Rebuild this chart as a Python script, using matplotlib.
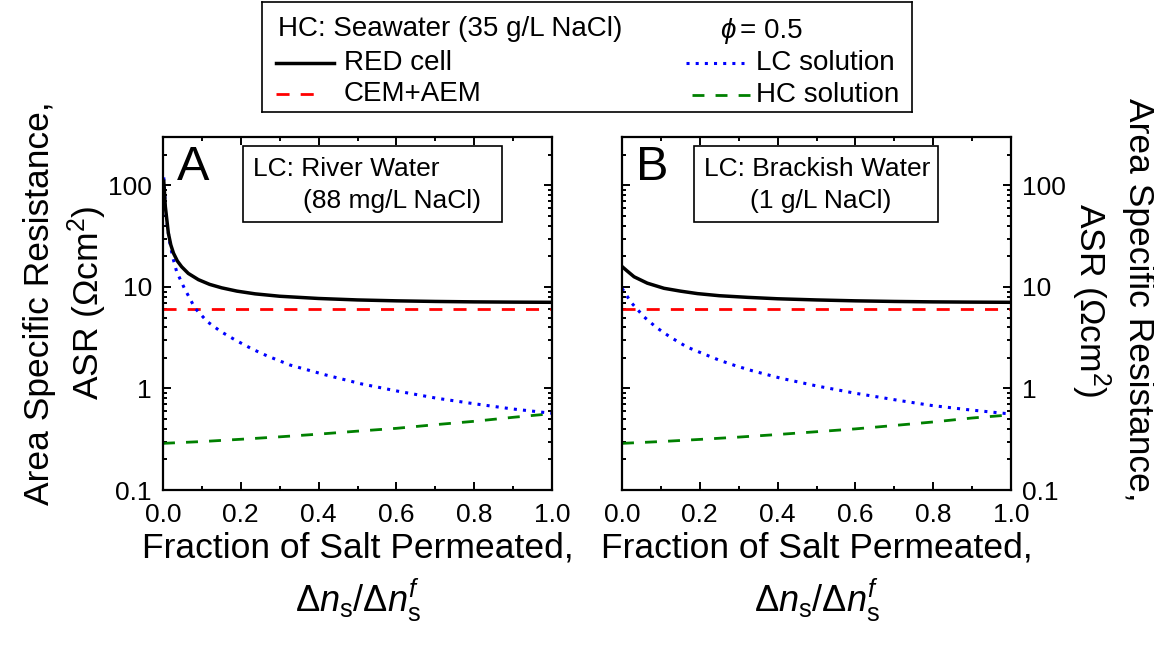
"""Area specific resistance vs fraction of salt permeated, two RED cases."""

import matplotlib

matplotlib.use("Agg")
import matplotlib.pyplot as plt
from matplotlib.patches import Rectangle
from matplotlib.ticker import LogLocator, MultipleLocator, NullFormatter, FixedFormatter, FixedLocator

plt.rcParams["font.family"] = ["Liberation Sans", "DejaVu Sans"]
plt.rcParams["mathtext.fontset"] = "custom"
plt.rcParams["mathtext.rm"] = "Liberation Sans"
plt.rcParams["mathtext.it"] = "Liberation Sans:italic"

# ---- panel A: river water LC ----
x_a_cell = [0.002, 0.006, 0.0137, 0.02, 0.027, 0.037, 0.048, 0.065, 0.091, 0.12, 0.151,
            0.19, 0.237, 0.3, 0.4, 0.5, 0.6, 0.7, 0.8, 0.9, 1.0]
asr_a_cell = [110, 62, 34, 26, 21.5, 18, 15.8, 13.6, 11.8, 10.6, 9.8,
              9.1, 8.55, 8.1, 7.7, 7.45, 7.3, 7.2, 7.13, 7.09, 7.06]
x_a_lc = [0.002, 0.006, 0.012, 0.017, 0.025, 0.035, 0.055, 0.082, 0.114, 0.149, 0.186,
          0.229, 0.267, 0.327, 0.418, 0.51, 0.604, 0.705, 0.797, 0.896, 1.0]
asr_a_lc = [120, 62, 37.8, 27.9, 19.6, 14.2, 9.7, 6.2, 4.55, 3.63, 3.0,
            2.45, 2.10, 1.70, 1.36, 1.11, 0.94, 0.80, 0.71, 0.63, 0.57]
x_a_hc = [0.0, 0.1, 0.2, 0.3, 0.4, 0.5, 0.6, 0.7, 0.8, 0.9, 1.0]
asr_a_hc = [0.288, 0.30, 0.316, 0.334, 0.355, 0.38, 0.405, 0.44, 0.475, 0.52, 0.565]

# ---- panel B: brackish water LC ----
x_b_cell = [0.0, 0.012, 0.031, 0.065, 0.108, 0.15, 0.194, 0.25, 0.323, 0.4, 0.5, 0.6,
            0.7, 0.8, 0.9, 1.0]
asr_b_cell = [15.9, 14.5, 12.6, 10.9, 9.7, 9.1, 8.6, 8.2, 7.9, 7.65, 7.45, 7.3,
              7.2, 7.13, 7.09, 7.06]
x_b_lc = [0.0, 0.024, 0.057, 0.088, 0.124, 0.167, 0.21, 0.25, 0.293, 0.336, 0.409,
          0.5, 0.598, 0.714, 0.796, 0.886, 1.0]
asr_b_lc = [9.7, 7.0, 5.06, 4.0, 3.21, 2.56, 2.19, 1.90, 1.67, 1.49, 1.26,
            1.06, 0.90, 0.76, 0.68, 0.62, 0.56]
x_b_hc = [0.0, 0.1, 0.2, 0.3, 0.4, 0.5, 0.6, 0.7, 0.8, 0.9, 1.0]
asr_b_hc = [0.288, 0.30, 0.315, 0.332, 0.352, 0.375, 0.40, 0.432, 0.468, 0.512, 0.55]

# membranes (constant)
x_mem = [0.0, 1.0]
asr_mem = [6.0, 6.0]

panels = [
    ("A", "LC: River Water", "(88 mg/L NaCl)",
     (x_a_cell, asr_a_cell), (x_a_lc, asr_a_lc), (x_a_hc, asr_a_hc)),
    ("B", "LC: Brackish Water", "(1 g/L NaCl)",
     (x_b_cell, asr_b_cell), (x_b_lc, asr_b_lc), (x_b_hc, asr_b_hc)),
]

W, H = 1154, 646
fig = plt.figure(figsize=(W / 100, H / 100), dpi=100)

style_cell = dict(color="black", lw=2.5, ls="-")
style_mem = dict(color="#ff0000", lw=2.0, ls=(0, (4.7, 4.0)))
style_lc = dict(color="#0000ff", lw=2.2, ls=(0, (1, 2.0)))
style_hc = dict(color="#008000", lw=2.0, ls=(0, (4.3, 4.0)))

axes_left = [163, 622]
ax_w, ax_top, ax_bot = 389, 137, 490
# inset boxes: left, right, top, bottom (px) and second-line indent (px)
box_px = [(243, 502, 146, 222, 50), (694, 938, 146, 222, 46)]

for i, (letter, l1, l2, cell, lc, hc) in enumerate(panels):
    ax = fig.add_axes([axes_left[i] / W, 1 - ax_bot / H, ax_w / W, (ax_bot - ax_top) / H])
    ax.plot(x_mem, asr_mem, **style_mem)
    ax.plot(*hc, **style_hc)
    ax.plot(*lc, **style_lc)
    ax.plot(*cell, **style_cell)
    ax.set_yscale("log")
    ax.set_xlim(0, 1)
    ax.set_ylim(0.1, 300)
    ax.xaxis.set_major_locator(MultipleLocator(0.2))
    ax.xaxis.set_minor_locator(MultipleLocator(0.1))
    ax.xaxis.set_major_formatter(matplotlib.ticker.FormatStrFormatter("%.1f"))
    ax.yaxis.set_major_locator(FixedLocator([0.1, 1, 10, 100]))
    ax.yaxis.set_major_formatter(FixedFormatter(["0.1", "1", "10", "100"]))
    ax.yaxis.set_minor_locator(LogLocator(base=10, subs=range(2, 10)))
    ax.yaxis.set_minor_formatter(NullFormatter())
    ax.tick_params(which="both", direction="in", top=True, right=True,
                   labelsize=19, width=1.4)
    ax.tick_params(axis="x", pad=9)
    ax.tick_params(axis="y", pad=8)
    ax.tick_params(which="major", length=6)
    ax.tick_params(which="minor", length=3)
    if i == 1:
        ax.tick_params(axis="y", labelleft=False, labelright=True)
    for sp in ax.spines.values():
        sp.set_linewidth(1.6)

    ax.text(0.035, 0.915, letter, transform=ax.transAxes, fontsize=35,
            ha="left", va="center")
    bx0, bx1, by0, by1, indent = box_px[i]
    x0 = (bx0 - axes_left[i]) / ax_w
    x1 = (bx1 - axes_left[i]) / ax_w
    y0 = (ax_bot - by1) / (ax_bot - ax_top)
    y1 = (ax_bot - by0) / (ax_bot - ax_top)
    ax.add_patch(Rectangle((x0, y0), x1 - x0, y1 - y0, transform=ax.transAxes,
                           fill=False, lw=1.2, ec="black"))
    ax.text(x0 + 10 / ax_w, y0 + (y1 - y0) * 0.70, l1, transform=ax.transAxes,
            fontsize=19, ha="left", va="center")
    ax.text(x0 + (10 + indent) / ax_w, y0 + (y1 - y0) * 0.27, l2, transform=ax.transAxes,
            fontsize=19, ha="left", va="center")

    cx = (axes_left[i] + ax_w / 2) / W
    fig.text(cx, 1 - 548 / H, "Fraction of Salt Permeated,", fontsize=25.5,
             ha="center", va="center")
    fig.text(cx, 1 - 600 / H,
             r"$\Delta \mathit{n}_{\mathrm{s}}/\Delta \mathit{n}_{\mathrm{s}}^{\mathit{f}}$",
             fontsize=26, ha="center", va="center")

ylab = "Area Specific Resistance,\nASR (Ω" + r"cm$^{2}$)"
fig.text(66 / W, 1 - 303 / H, ylab, rotation=90, fontsize=25.5, ha="center",
         va="center", multialignment="center", linespacing=1.3)
fig.text(1112 / W, 1 - 300 / H, ylab, rotation=270, fontsize=25.5, ha="center",
         va="center", multialignment="center", linespacing=1.3)

# legend box at top
lg = fig.add_axes([262 / W, 1 - 112 / H, 650 / W, 110 / H])
lg.set_xlim(0, 650)
lg.set_ylim(110, 0)
lg.set_xticks([])
lg.set_yticks([])
for sp in lg.spines.values():
    sp.set_linewidth(1.2)
fs_leg = 20
lg.text(16, 27, "HC: Seawater (35 g/L NaCl)", fontsize=fs_leg, ha="left", va="center")
lg.text(458, 29, "ϕ", fontsize=fs_leg, style="italic", ha="left", va="center")
lg.text(478, 29, "= 0.5", fontsize=fs_leg, ha="left", va="center")
lg.plot([14, 72], [61, 61], **style_cell)
lg.text(82, 61, "RED cell", fontsize=fs_leg, ha="left", va="center")
lg.plot([14, 62], [92, 92], **style_mem)
lg.text(82, 92, "CEM+AEM", fontsize=fs_leg, ha="left", va="center")
lg.plot([424, 482], [61, 61], **style_lc)
lg.text(494, 61, "LC solution", fontsize=fs_leg, ha="left", va="center")
lg.plot([430, 488], [93, 93], **style_hc)
lg.text(494, 93, "HC solution", fontsize=fs_leg, ha="left", va="center")

fig.savefig("out.png", dpi=100)
